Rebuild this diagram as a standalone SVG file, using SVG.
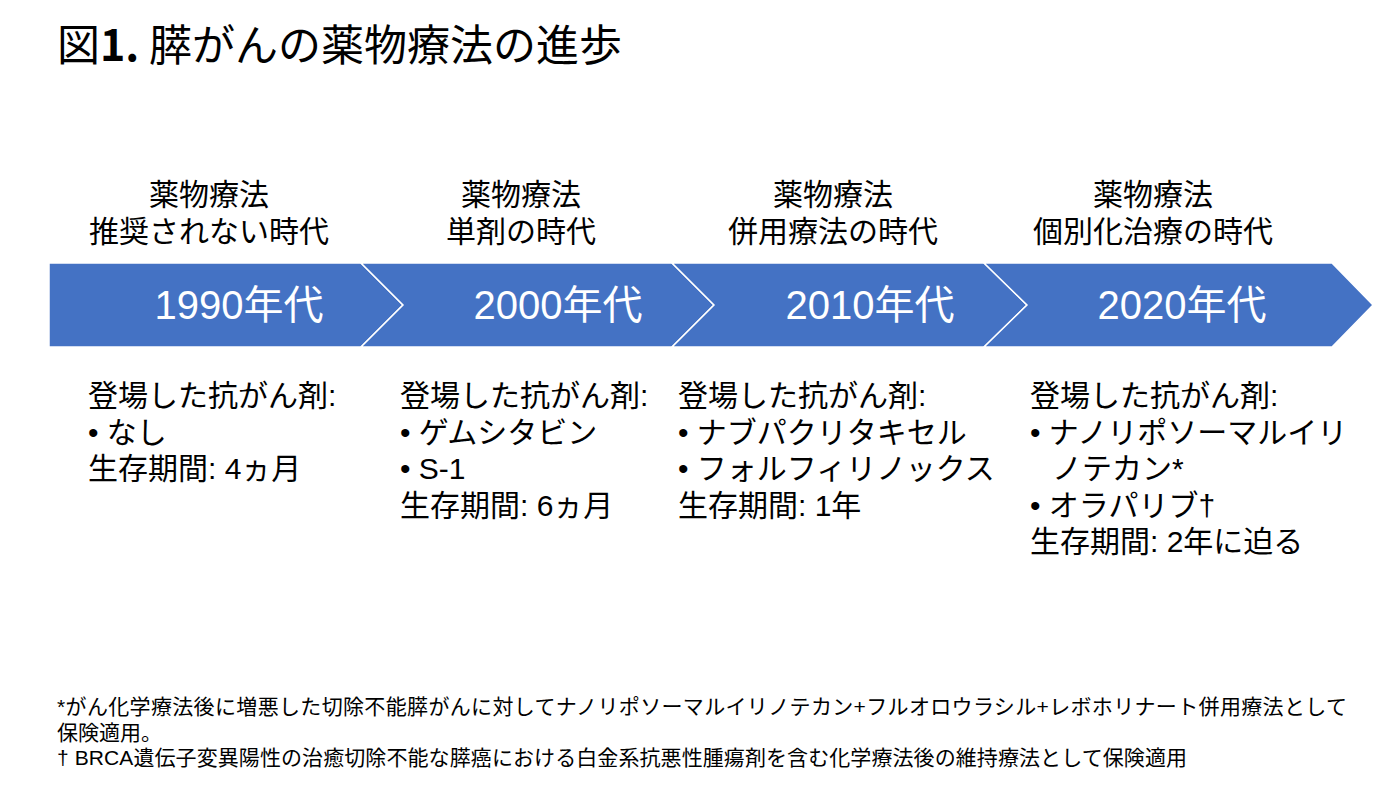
<svg xmlns="http://www.w3.org/2000/svg" width="1400" height="790" viewBox="0 0 1400 790">
<style>
text{font-family:"Liberation Sans","Noto Sans CJK JP",sans-serif;fill:#000}
.title{font-size:43px;font-weight:400;font-family:"Noto Sans CJK JP",sans-serif}
.hd{font-size:30px;text-anchor:middle}
.yr{font-size:40px;fill:#fff;text-anchor:middle}
.bd{font-size:30px}
.fn{font-size:21px}
.seg{fill:#4472C4;stroke:#fff;stroke-width:1.5}
</style>
<rect width="1400" height="790" fill="#fff"/>
<text class="title" x="57" y="61">図<tspan font-weight="700">1.</tspan> 膵がんの薬物療法の進歩</text>
<g id="era1990">
<polygon class="seg" points="49,263 361,263 403,305 361,347 49,347"/>
<text class="yr" x="239" y="319">1990年代</text>
<text class="hd" x="209" y="205">薬物療法</text>
<text class="hd" x="209" y="242">推奨されない時代</text>
<text class="bd" x="88" y="406">登場した抗がん剤:</text>
<text class="bd" x="88" y="443">• なし</text>
<text class="bd" x="88" y="479">生存期間: 4ヵ月</text>
</g>
<g id="era2000">
<polygon class="seg" points="361,263 672,263 714,305 672,347 361,347 403,305"/>
<text class="yr" x="558" y="319">2000年代</text>
<text class="hd" x="521" y="205">薬物療法</text>
<text class="hd" x="521" y="242">単剤の時代</text>
<text class="bd" x="400" y="406">登場した抗がん剤:</text>
<text class="bd" x="400" y="443">• ゲムシタビン</text>
<text class="bd" x="400" y="479">• S-1</text>
<text class="bd" x="400" y="516">生存期間: 6ヵ月</text>
</g>
<g id="era2010">
<polygon class="seg" points="672,263 984,263 1027,305 984,347 672,347 714,305"/>
<text class="yr" x="870" y="319">2010年代</text>
<text class="hd" x="833" y="205">薬物療法</text>
<text class="hd" x="833" y="242">併用療法の時代</text>
<text class="bd" x="678" y="406">登場した抗がん剤:</text>
<text class="bd" x="678" y="443">• ナブパクリタキセル</text>
<text class="bd" x="678" y="479">• フォルフィリノックス</text>
<text class="bd" x="678" y="516">生存期間: 1年</text>
</g>
<g id="era2020">
<polygon class="seg" points="984,263 1332,263 1373,305 1332,347 984,347 1027,305"/>
<text class="yr" x="1182" y="319">2020年代</text>
<text class="hd" x="1153" y="205">薬物療法</text>
<text class="hd" x="1153" y="242">個別化治療の時代</text>
<text class="bd" x="1030" y="406">登場した抗がん剤:</text>
<text class="bd" x="1030" y="443">• ナノリポソーマルイリ</text>
<text class="bd" x="1052" y="479">ノテカン*</text>
<text class="bd" x="1030" y="516">• オラパリブ†</text>
<text class="bd" x="1030" y="552">生存期間: 2年に迫る</text>
</g>
<g id="connectors"></g>
<g id="footnotes">
<text class="fn" x="57" y="714" textLength="1290" lengthAdjust="spacing">*がん化学療法後に増悪した切除不能膵がんに対してナノリポソーマルイリノテカン+フルオロウラシル+レボホリナート併用療法として</text>
<text class="fn" x="57" y="740">保険適用。</text>
<text class="fn" x="57" y="765" textLength="1130" lengthAdjust="spacing">† BRCA遺伝子変異陽性の治癒切除不能な膵癌における白金系抗悪性腫瘍剤を含む化学療法後の維持療法として保険適用</text>
</g>
</svg>
